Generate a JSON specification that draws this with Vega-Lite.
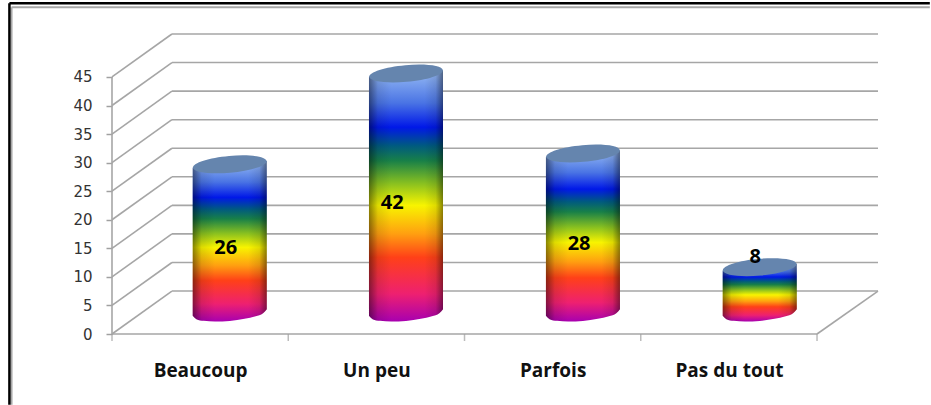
{"$schema":"https://vega.github.io/schema/vega-lite/v6.json","width":766,"height":300,"autosize":"none","padding":{"left":112,"top":34,"right":53,"bottom":71},"background":"white","view":{"stroke":null},
"config":{"axis":{"labelOverlap":false,"labelSeparation":0}},
"datasets":{
"frameinner":[{"x":-0.57,"y":57.2,"x2":4.64,"y2":57.2},{"x":-0.57,"y":57.2,"x2":-0.57,"y2":-12.4}],
"frame":[{"x":-0.582,"y":57.9,"x2":4.64,"y2":57.9},{"x":-0.582,"y":57.9,"x2":-0.582,"y2":-12.4}],
"walls":[{"x":0,"y":0,"x2":0,"y2":45},{"x":0,"y":0,"x2":4,"y2":0},{"x":4,"y":0,"x2":4.346,"y2":7.52},
{"x":0,"y":0,"x2":0.34,"y2":7.52},{"x":0,"y":5,"x2":0.34,"y2":12.52},{"x":0,"y":10,"x2":0.34,"y2":17.52},{"x":0,"y":15,"x2":0.34,"y2":22.52},{"x":0,"y":20,"x2":0.34,"y2":27.52},{"x":0,"y":25,"x2":0.34,"y2":32.52},{"x":0,"y":30,"x2":0.34,"y2":37.52},{"x":0,"y":35,"x2":0.34,"y2":42.52},{"x":0,"y":40,"x2":0.34,"y2":47.52},{"x":0,"y":45,"x2":0.34,"y2":52.52},
{"x":0.34,"y":7.52,"x2":4.346,"y2":7.52},{"x":0.34,"y":12.52,"x2":4.346,"y2":12.52},{"x":0.34,"y":17.52,"x2":4.346,"y2":17.52},{"x":0.34,"y":22.52,"x2":4.346,"y2":22.52},{"x":0.34,"y":27.52,"x2":4.346,"y2":27.52},{"x":0.34,"y":32.52,"x2":4.346,"y2":32.52},{"x":0.34,"y":37.52,"x2":4.346,"y2":37.52},{"x":0.34,"y":42.52,"x2":4.346,"y2":42.52},{"x":0.34,"y":47.52,"x2":4.346,"y2":47.52},{"x":0.34,"y":52.52,"x2":4.346,"y2":52.52}],
"cyl":[
{"cat":"Beaucoup","x":0.458,"low":3.18,"high":29.12},{"cat":"Beaucoup","x":0.479,"low":2.6,"high":29.18},{"cat":"Beaucoup","x":0.521,"low":2.3,"high":29.29},{"cat":"Beaucoup","x":0.584,"low":2.18,"high":29.47},{"cat":"Beaucoup","x":0.668,"low":2.29,"high":29.7},{"cat":"Beaucoup","x":0.752,"low":2.65,"high":29.93},{"cat":"Beaucoup","x":0.815,"low":3.12,"high":30.11},{"cat":"Beaucoup","x":0.857,"low":3.64,"high":30.22},{"cat":"Beaucoup","x":0.878,"low":4.34,"high":30.28},
{"cat":"Un peu","x":1.458,"low":3.18,"high":45.02},{"cat":"Un peu","x":1.479,"low":2.6,"high":45.08},{"cat":"Un peu","x":1.521,"low":2.3,"high":45.19},{"cat":"Un peu","x":1.584,"low":2.18,"high":45.37},{"cat":"Un peu","x":1.668,"low":2.29,"high":45.6},{"cat":"Un peu","x":1.752,"low":2.65,"high":45.83},{"cat":"Un peu","x":1.815,"low":3.12,"high":46.01},{"cat":"Un peu","x":1.857,"low":3.64,"high":46.12},{"cat":"Un peu","x":1.878,"low":4.34,"high":46.18},
{"cat":"Parfois","x":2.462,"low":3.18,"high":31.02},{"cat":"Parfois","x":2.483,"low":2.6,"high":31.08},{"cat":"Parfois","x":2.525,"low":2.3,"high":31.19},{"cat":"Parfois","x":2.588,"low":2.18,"high":31.37},{"cat":"Parfois","x":2.672,"low":2.29,"high":31.6},{"cat":"Parfois","x":2.756,"low":2.65,"high":31.83},{"cat":"Parfois","x":2.819,"low":3.12,"high":32.01},{"cat":"Parfois","x":2.861,"low":3.64,"high":32.12},{"cat":"Parfois","x":2.882,"low":4.34,"high":32.18},
{"cat":"Pas du tout","x":3.465,"low":3.18,"high":11.12},{"cat":"Pas du tout","x":3.486,"low":2.6,"high":11.18},{"cat":"Pas du tout","x":3.528,"low":2.3,"high":11.29},{"cat":"Pas du tout","x":3.591,"low":2.18,"high":11.47},{"cat":"Pas du tout","x":3.675,"low":2.29,"high":11.7},{"cat":"Pas du tout","x":3.759,"low":2.65,"high":11.93},{"cat":"Pas du tout","x":3.822,"low":3.12,"high":12.11},{"cat":"Pas du tout","x":3.864,"low":3.64,"high":12.22},{"cat":"Pas du tout","x":3.885,"low":4.34,"high":12.28}],
"bars":[{"cat":"Beaucoup","value":26,"x":0.668,"top":29.7,"lx":0.645,"ly":15},
{"cat":"Un peu","value":42,"x":1.668,"top":45.6,"lx":1.59,"ly":23},
{"cat":"Parfois","value":28,"x":2.672,"top":31.6,"lx":2.65,"ly":15.8},
{"cat":"Pas du tout","value":8,"x":3.675,"top":11.7,"lx":3.65,"ly":13.5}]},
"encoding":{},
"layer":[
{"data":{"name":"frameinner"},"mark":{"type":"rule","color":"#a8a8a8","strokeWidth":2,"clip":false},"encoding":{"x":{"field":"x","type":"quantitative","scale":{"domain":[0,4.346],"nice":false,"zero":false},"axis":{"values":[0.5,1.5,2.5,3.5],"title":null,"domain":false,"ticks":false,"grid":false,"labelExpr":"datum.value==0.5?'Beaucoup':datum.value==1.5?'Un peu':datum.value==2.5?'Parfois':'Pas du tout'","labelFont":"Open Sans","labelFontWeight":"bold","labelFontSize":19,"labelColor":"#111111","labelPadding":27,"labelAngle":0}},"x2":{"field":"x2"},"y":{"field":"y","type":"quantitative","scale":{"domain":[0,52.52],"nice":false,"zero":false},"axis":{"values":[0,5,10,15,20,25,30,35,40,45],"tickCount":10,"title":null,"domain":false,"grid":false,"tickColor":"#a0a0a0","tickSize":6,"tickWidth":1.5,"labelFont":"DejaVu Sans","labelFontSize":15,"labelColor":"#333333","labelPadding":14,"format":"d"}},"y2":{"field":"y2"}}},
{"data":{"name":"frame"},"mark":{"type":"rule","color":"#000000","strokeWidth":2.5,"clip":false},"encoding":{"x":{"field":"x","type":"quantitative"},"x2":{"field":"x2"},"y":{"field":"y","type":"quantitative"},"y2":{"field":"y2"}}},
{"data":{"name":"walls"},"mark":{"type":"rule","color":"#a6a6a6","strokeWidth":1.6},"encoding":{"x":{"field":"x","type":"quantitative"},"x2":{"field":"x2"},"y":{"field":"y","type":"quantitative"},"y2":{"field":"y2"}}},
{"data":{"values":[{"x":0},{"x":1},{"x":2},{"x":3},{"x":4}]},"mark":{"type":"tick","orient":"vertical","color":"#a0a0a0","size":7,"thickness":1.5,"yOffset":3.5},"encoding":{"x":{"field":"x","type":"quantitative"},"y":{"datum":0,"type":"quantitative"}}},
{"data":{"name":"cyl"},"mark":{"type":"area","interpolate":"monotone","opacity":1,"color":{"gradient":"linear","x1":0,"y1":1,"x2":0,"y2":0,"stops":[{"offset":0,"color":"#a800b0"},{"offset":0.11,"color":"#ee2070"},{"offset":0.255,"color":"#ff4018"},{"offset":0.35,"color":"#ffa010"},{"offset":0.462,"color":"#f8f400"},{"offset":0.55,"color":"#88c020"},{"offset":0.64,"color":"#188048"},{"offset":0.7,"color":"#005a80"},{"offset":0.773,"color":"#0018e8"},{"offset":0.87,"color":"#4a74e4"},{"offset":1,"color":"#98bcf4"}]}},"encoding":{"x":{"field":"x","type":"quantitative"},"y":{"field":"low","type":"quantitative"},"y2":{"field":"high"},"detail":{"field":"cat"}}},
{"data":{"name":"cyl"},"mark":{"type":"area","interpolate":"monotone","opacity":1,"color":{"gradient":"linear","x1":0,"y1":0,"x2":1,"y2":0,"stops":[{"offset":0,"color":"rgba(0,0,0,0.45)"},{"offset":0.12,"color":"rgba(0,0,0,0.1)"},{"offset":0.3,"color":"rgba(0,0,0,0)"},{"offset":0.75,"color":"rgba(0,0,0,0)"},{"offset":0.9,"color":"rgba(0,0,0,0.1)"},{"offset":1,"color":"rgba(0,0,0,0.45)"}]}},"encoding":{"x":{"field":"x","type":"quantitative"},"y":{"field":"low","type":"quantitative"},"y2":{"field":"high"},"detail":{"field":"cat"}}},
{"data":{"name":"bars"},"mark":{"type":"point","filled":true,"opacity":1,"size":5476,"shape":"M-0.996,0.09 A1,0.226,-5.2,1,1,0.996,-0.09 A1,0.226,-5.2,1,1,-0.996,0.09 Z","fill":"#6585ae"},"encoding":{"x":{"field":"x","type":"quantitative"},"y":{"field":"top","type":"quantitative"}}},
{"data":{"name":"bars"},"mark":{"type":"text","font":"Open Sans","fontWeight":"bold","fontSize":20,"color":"#000000"},"encoding":{"x":{"field":"lx","type":"quantitative"},"y":{"field":"ly","type":"quantitative"},"text":{"field":"value","type":"quantitative"}}}
]}
